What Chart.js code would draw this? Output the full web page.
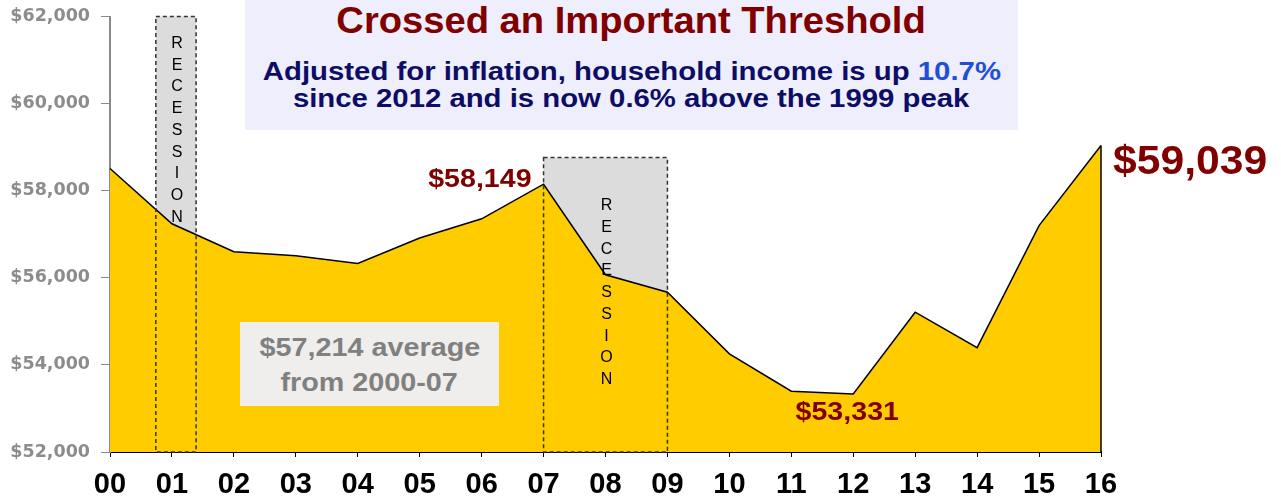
<!DOCTYPE html>
<html>
<head>
<meta charset="utf-8">
<title>Household income</title>
<script src="https://cdn.jsdelivr.net/npm/chart.js@4.4.1/dist/chart.umd.min.js"></script>
<style>
  html, body { margin: 0; padding: 0; background: #fff; }
  #wrap { position: relative; width: 1281px; height: 498px; overflow: hidden; }
  #chart { position: absolute; left: 0; top: 0; }
  .panel { position: absolute; font-family: "Liberation Sans", Arial, sans-serif; font-weight: bold; }
  .panel .line { position: absolute; left: 0; right: 0; text-align: center; white-space: nowrap; }
  .panel span.s { display: inline-block; }
  #titleBox { left: 245px; top: 0; width: 773px; height: 130px; background: #eeeefc; }
  #titleBox .t { top: 2.5px; color: #800000; font-size: 36px; line-height: 36px; }
  #titleBox .t span.s { transform: scaleX(1.06); }
  #titleBox .sub { color: #0d0d66; font-size: 25.5px; line-height: 27px; }
  #titleBox .sub span.s { transform: scaleX(1.15); }
  #titleBox .hl { color: #1f4fd6; }
  #avgBox { left: 240px; top: 322px; width: 259px; height: 84px; background: #efeeed; color: #808080; font-size: 25px; line-height: 35px; }
  #avgBox span.s { transform: scaleX(1.15); }
</style>
</head>
<body>
<div id="wrap">
  <canvas id="chart" width="1281" height="498"></canvas>
  <div class="panel" id="titleBox">
    <div class="line t"><span class="s">Crossed an Important Threshold</span></div>
    <div class="line sub" style="top:57.7px"><span class="s">Adjusted for inflation, household income is up <span class="hl">10.7%</span></span></div>
    <div class="line sub" style="top:84.7px"><span class="s">since 2012 and is now 0.6% above the 1999 peak</span></div>
  </div>
  <div class="panel" id="avgBox">
    <div class="line" style="top:8px"><span class="s">$57,214 average</span></div>
    <div class="line" style="top:43px"><span class="s">from 2000-07</span></div>
  </div>
</div>
<script>
// data
const years = ["00", "01", "02", "03", "04", "05", "06", "07", "08", "09", "10", "11", "12", "13", "14", "15", "16"];
const income = [58510, 57240, 56600, 56505, 56330, 56915, 57355, 58149, 56070, 55670, 54255, 53395, 53331, 55210, 54395, 57200, 59039];
const yMin = 52000;
const yMax = 62000;
const yStep = 2000;

// recession boxes, in category index units
const recessionStart = [0.74, 7];
const recessionEnd = [1.39, 9];
const recessionTop = [62000, 58760];

// callout labels
const calloutIndex = [7, 12, 16];
const calloutText = ["$58,149", "$53,331", "$59,039"];

const fontFamily = '"Liberation Sans", Arial, sans-serif';

function fmtDollar(v) {
  return "$" + Number(v).toLocaleString("en-US");
}

// grey boxes behind the area, dashed outline + vertical word on top
const recessionPlugin = {
  id: "recessions",
  beforeDatasetsDraw(chart) {
    const { ctx, scales: { x, y } } = chart;
    ctx.save();
    ctx.fillStyle = "#dcdcdc";
    for (let i = 0; i < recessionStart.length; i++) {
      const x0 = x.getPixelForValue(recessionStart[i]);
      const x1 = x.getPixelForValue(recessionEnd[i]);
      const y0 = y.getPixelForValue(recessionTop[i]);
      ctx.fillRect(x0, y0, x1 - x0, y.bottom - y0);
    }
    ctx.restore();
  },
  afterDatasetsDraw(chart) {
    const { ctx, scales: { x, y } } = chart;
    const textOffset = [27, 48];
    ctx.save();
    ctx.strokeStyle = "#333";
    ctx.lineWidth = 1.5;
    ctx.setLineDash([4, 3]);
    for (let i = 0; i < recessionStart.length; i++) {
      const x0 = x.getPixelForValue(recessionStart[i]);
      const x1 = x.getPixelForValue(recessionEnd[i]);
      const y0 = y.getPixelForValue(recessionTop[i]);
      ctx.strokeRect(x0, y0, x1 - x0, y.bottom - y0);
    }
    ctx.setLineDash([]);
    ctx.fillStyle = "#000";
    ctx.font = "16px " + fontFamily;
    ctx.textAlign = "center";
    ctx.textBaseline = "middle";
    const word = "RECESSION";
    for (let i = 0; i < recessionStart.length; i++) {
      const cx = (x.getPixelForValue(recessionStart[i]) + x.getPixelForValue(recessionEnd[i])) / 2 + 1;
      const top = y.getPixelForValue(recessionTop[i]) + textOffset[i];
      for (let k = 0; k < word.length; k++) {
        ctx.fillText(word[k], cx, top + k * 21.75);
      }
    }

    // closing edge of the area at the last year
    const last = income.length - 1;
    const lx = x.getPixelForValue(last);
    ctx.strokeStyle = "#000";
    ctx.lineWidth = 1.5;
    ctx.beginPath();
    ctx.moveTo(lx, y.getPixelForValue(income[last]));
    ctx.lineTo(lx, y.bottom);
    ctx.stroke();
    ctx.restore();
  },
  afterDraw(chart) {
    const { ctx, scales: { x, y } } = chart;
    const style = [
      { dx: -12, dy: 3, align: "right", size: 26, sx: 1.1 },
      { dx: -6, dy: 26, align: "center", size: 26, sx: 1.1 },
      { dx: 12, dy: 29, align: "left", size: 41, sx: 1.04 }
    ];
    ctx.save();
    ctx.fillStyle = "#800000";
    ctx.textBaseline = "alphabetic";
    for (let i = 0; i < calloutIndex.length; i++) {
      const s = style[i];
      const px = x.getPixelForValue(calloutIndex[i]) + s.dx;
      const py = y.getPixelForValue(income[calloutIndex[i]]) + s.dy;
      ctx.save();
      ctx.translate(px, py);
      ctx.scale(s.sx, 1);
      ctx.font = "bold " + s.size + "px " + fontFamily;
      ctx.textAlign = s.align;
      ctx.fillText(calloutText[i], 0, 0);
      ctx.restore();
    }
    ctx.restore();
  }
};

new Chart(document.getElementById("chart"), {
  type: "line",
  data: {
    labels: years,
    datasets: [
      {
        label: "Median household income",
        data: income,
        fill: "start",
        backgroundColor: "#ffcc00",
        borderColor: "#000",
        borderWidth: 1.5,
        tension: 0,
        pointRadius: 0
      }
    ]
  },
  options: {
    responsive: false,
    animation: false,
    layout: { padding: { top: 16.5, right: 180, bottom: 0, left: 0 } },
    plugins: {
      legend: { display: false },
      tooltip: { enabled: false }
    },
    scales: {
      x: {
        offset: false,
        grid: { drawOnChartArea: false, drawTicks: true, tickLength: 5, color: "#000" },
        border: { color: "#000", width: 2 },
        ticks: {
          color: "#000",
          padding: 11,
          maxRotation: 0,
          autoSkip: false,
          font: { family: fontFamily, size: 29, weight: "bold" }
        },
        afterFit(scale) { scale.height = 46; }
      },
      y: {
        min: yMin,
        max: yMax,
        grid: { drawOnChartArea: false, drawTicks: true, tickLength: 9, color: "#8a8a8a" },
        border: { color: "#8a8a8a", width: 2 },
        ticks: {
          stepSize: yStep,
          color: "#8c8c8c",
          padding: 11,
          font: { family: '"DejaVu Sans", sans-serif', size: 17.5, weight: "bold" },
          callback: (v) => fmtDollar(v)
        },
        afterFit(scale) {
          scale.width = 110;
          scale.paddingTop = 0;
          scale.paddingBottom = 0;
        }
      }
    }
  },
  plugins: [recessionPlugin]
});
</script>
</body>
</html>
